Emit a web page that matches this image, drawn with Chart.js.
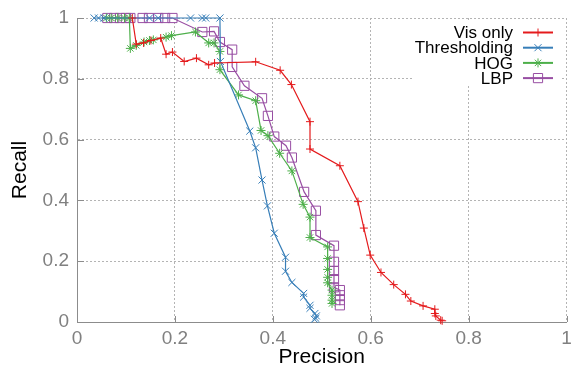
<!DOCTYPE html>
<html>
<head>
<meta charset="utf-8">
<script src="https://cdn.jsdelivr.net/npm/chart.js@4/dist/chart.umd.min.js"></script>
<style>
  html, body { margin: 0; padding: 0; background: #fff; }
  #wrap { width: 574px; height: 367px; }
</style>
</head>
<body>
<div id="wrap"><canvas id="prChart" width="574" height="367"></canvas></div>
<script>
// Labels
const seriesNames = ['Vis only', 'Thresholding', 'HOG', 'LBP'];
const xTickLabels = ['0', '0.2', '0.4', '0.6', '0.8', '1'];
const yTickLabels = ['0', '0.2', '0.4', '0.6', '0.8', '1'];

// Vis only
const visPrecision = [0.113, 0.121, 0.136, 0.151, 0.171, 0.182, 0.195, 0.219, 0.244, 0.269, 0.281, 0.365, 0.415, 0.438, 0.476, 0.476, 0.537, 0.574, 0.586, 0.599, 0.621, 0.647, 0.671, 0.682, 0.707, 0.731, 0.731, 0.733, 0.743, 0.746];
const visRecall = [1.0, 0.914, 0.918, 0.926, 0.934, 0.881, 0.888, 0.857, 0.868, 0.846, 0.852, 0.856, 0.828, 0.781, 0.659, 0.569, 0.514, 0.396, 0.309, 0.220, 0.163, 0.123, 0.091, 0.069, 0.053, 0.042, 0.028, 0.020, 0.006, 0.004];

// Thresholding
const thrPrecision = [0.035, 0.044, 0.055, 0.148, 0.166, 0.232, 0.256, 0.263, 0.292, 0.293, 0.353, 0.365, 0.378, 0.389, 0.403, 0.426, 0.426, 0.439, 0.463, 0.463, 0.476, 0.476, 0.486, 0.489, 0.488, 0.485];
const thrRecall = [1, 1, 1, 1, 1, 1, 1, 1, 1, 0.857, 0.628, 0.573, 0.467, 0.382, 0.292, 0.213, 0.167, 0.130, 0.094, 0.082, 0.055, 0.045, 0.028, 0.020, 0.012, 0.009];

// HOG
const hogPrecision = [0.060, 0.070, 0.083, 0.097, 0.107, 0.109, 0.121, 0.137, 0.148, 0.156, 0.182, 0.193, 0.242, 0.269, 0.280, 0.292, 0.292, 0.330, 0.365, 0.376, 0.390, 0.414, 0.439, 0.462, 0.476, 0.476, 0.512, 0.512, 0.512, 0.512, 0.512, 0.521, 0.521, 0.521, 0.521];
const hogRecall = [1, 1, 1, 1, 1, 0.900, 0.910, 0.921, 0.926, 0.928, 0.937, 0.942, 0.954, 0.918, 0.918, 0.890, 0.830, 0.747, 0.728, 0.630, 0.613, 0.555, 0.497, 0.387, 0.345, 0.278, 0.247, 0.209, 0.173, 0.147, 0.129, 0.105, 0.088, 0.072, 0.061];

// LBP
const lbpPrecision = [0.062, 0.076, 0.088, 0.100, 0.109, 0.134, 0.147, 0.166, 0.180, 0.195, 0.256, 0.280, 0.292, 0.317, 0.317, 0.342, 0.378, 0.390, 0.403, 0.427, 0.439, 0.464, 0.488, 0.488, 0.525, 0.525, 0.525, 0.525, 0.525, 0.537, 0.537, 0.537, 0.537];
const lbpRecall = [1, 1, 1, 1, 1, 1, 1, 1, 1, 1, 0.954, 0.956, 0.921, 0.896, 0.839, 0.777, 0.736, 0.678, 0.610, 0.580, 0.541, 0.428, 0.366, 0.286, 0.251, 0.198, 0.168, 0.141, 0.114, 0.105, 0.088, 0.072, 0.055];

const colors = ['#e41a1c', '#377eb8', '#4daf4a', '#984ea3'];
const markers = ['cross', 'crossRot', 'star', 'rect'];
const markerSizes = [4, 5, 4.5, 6.5];

function toPoints(px, py) {
    return px.map((p, i) => ({ x: p, y: py[i] }));
}

const seriesData = [
    toPoints(visPrecision, visRecall),
    toPoints(thrPrecision, thrRecall),
    toPoints(hogPrecision, hogRecall),
    toPoints(lbpPrecision, lbpRecall)
];

const FONT = "'Liberation Sans', Arial, Helvetica, sans-serif";

// gnuplot style key: text right aligned, sample on the right
const keyPlugin = {
    id: 'gnuplotKey',
    afterDatasetsDraw(chart) {
        const ctx = chart.ctx;
        ctx.save();
        ctx.fillStyle = '#fff';
        ctx.fillRect(412, 20, 150, 66);
        ctx.font = '17px ' + FONT;
        ctx.textAlign = 'right';
        ctx.textBaseline = 'middle';
        seriesNames.forEach((name, i) => {
            const y = 32.5 + i * 15.2;
            ctx.fillStyle = '#000';
            ctx.fillText(name, 513, y + 1);
            ctx.strokeStyle = colors[i];
            ctx.lineWidth = 2;
            ctx.beginPath();
            ctx.moveTo(523, y);
            ctx.lineTo(553, y);
            ctx.stroke();
            ctx.lineWidth = 1;
            ctx.fillStyle = 'rgba(0,0,0,0)';
            Chart.helpers.drawPoint(ctx, {
                pointStyle: markers[i],
                radius: markerSizes[i],
                rotation: 0,
                borderWidth: 1
            }, 538, y);
        });
        ctx.restore();
    }
};

// short inward tick marks on left and bottom border
const innerTicks = {
    id: 'innerTicks',
    afterDraw(chart) {
        const { ctx, chartArea, scales } = chart;
        ctx.save();
        ctx.strokeStyle = '#8c8c8c';
        ctx.lineWidth = 1;
        ctx.beginPath();
        scales.x.ticks.forEach(t => {
            const px = Math.round(scales.x.getPixelForValue(t.value)) + 0.5;
            ctx.moveTo(px, chartArea.bottom);
            ctx.lineTo(px, chartArea.bottom - 6);
        });
        scales.y.ticks.forEach(t => {
            const py = Math.round(scales.y.getPixelForValue(t.value)) + 0.5;
            ctx.moveTo(chartArea.left, py);
            ctx.lineTo(chartArea.left + 7, py);
        });
        ctx.stroke();
        ctx.restore();
    }
};

const datasets = seriesNames.map((name, i) => ({
    label: name,
    data: seriesData[i],
    borderColor: colors[i],
    backgroundColor: 'rgba(0,0,0,0)',
    borderWidth: 1.2,
    pointStyle: markers[i],
    pointRadius: markerSizes[i],
    pointBorderWidth: 1,
    pointBorderColor: colors[i],
    pointBackgroundColor: 'rgba(0,0,0,0)',
    tension: 0,
    fill: false,
    clip: false
}));

const ctx = document.getElementById('prChart').getContext('2d');
new Chart(ctx, {
    type: 'line',
    data: { datasets: datasets },
    options: {
        responsive: false,
        maintainAspectRatio: false,
        devicePixelRatio: 1,
        animation: false,
        layout: { padding: { top: 18, right: 4, left: 0, bottom: 0 } },
        plugins: {
            legend: { display: false },
            tooltip: { enabled: false }
        },
        scales: {
            x: {
                type: 'linear',
                min: 0,
                max: 1,
                ticks: {
                    stepSize: 0.2,
                    color: '#808080',
                    font: { family: FONT, size: 19 },
                    padding: 5,
                    maxRotation: 0,
                    callback: (v, i) => xTickLabels[i]
                },
                grid: { color: '#b4b4b4', lineWidth: 1, drawTicks: false },
                border: { display: true, color: '#8c8c8c', width: 1, dash: [2, 2] },
                title: {
                    display: true,
                    text: 'Precision',
                    color: '#000',
                    font: { family: FONT, size: 21 },
                    padding: { top: 0, bottom: -3 }
                },
                afterFit(scale) {
                    scale.height = 45;
                    scale.paddingLeft = 0;
                    scale.paddingRight = 0;
                }
            },
            y: {
                type: 'linear',
                min: 0,
                max: 1,
                ticks: {
                    stepSize: 0.2,
                    color: '#808080',
                    font: { family: FONT, size: 19 },
                    padding: 8,
                    callback: (v, i) => yTickLabels[i]
                },
                grid: { color: '#b4b4b4', lineWidth: 1, drawTicks: false },
                border: { display: true, color: '#8c8c8c', width: 1, dash: [2, 2] },
                title: {
                    display: true,
                    text: 'Recall',
                    color: '#000',
                    font: { family: FONT, size: 21 },
                    padding: { top: 8, bottom: 0 }
                },
                afterFit(scale) {
                    scale.width = 77;
                    scale.paddingTop = 0;
                    scale.paddingBottom = 0;
                }
            }
        }
    },
    plugins: [keyPlugin, innerTicks]
});
</script>
</body>
</html>
